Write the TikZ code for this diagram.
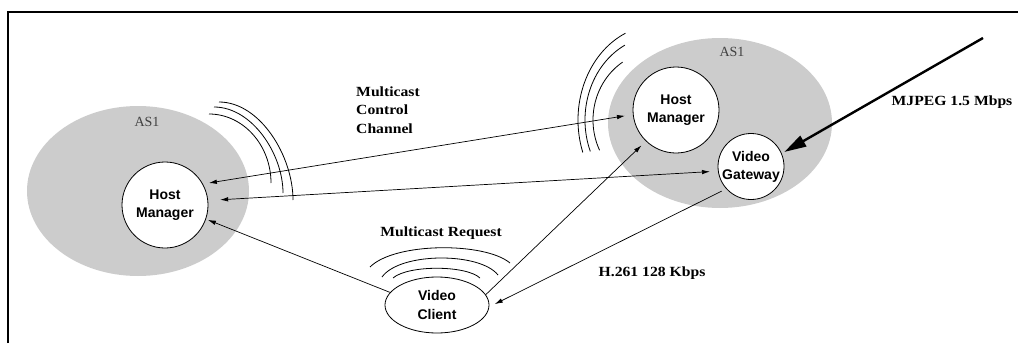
\documentclass[tikz,border=0pt]{standalone}
\usepackage{fontspec}
\setmainfont{Liberation Serif}
\setsansfont{Liberation Sans}
\newfontfamily\lblfont[FakeStretch=1.12]{Liberation Serif}
\usetikzlibrary{arrows.meta,shapes.geometric}

\begin{document}
\begin{tikzpicture}[x=1pt,y=-1pt,
  >={Latex[length=8pt,width=4.5pt]},
  zone/.style={fill=gray!40,draw=none},
  hostnode/.style={circle,draw,fill=white,line width=0.8pt,inner sep=0pt,
    minimum size=86pt,align=center,
    font=\sffamily\bfseries\fontsize{14}{18}\selectfont},
  gatenode/.style={hostnode,minimum size=66pt},
  clientnode/.style={ellipse,draw,fill=white,line width=0.8pt,inner sep=0pt,
    minimum width=104pt,minimum height=56pt,align=center,
    font=\sffamily\bfseries\fontsize{14}{19}\selectfont},
  link/.style={line width=0.7pt},
  feed/.style={line width=2.4pt,-{Triangle[length=22pt,width=12pt]}},
  wave/.style={line width=0.8pt},
  lbl/.style={inner sep=0pt,font=\lblfont\bfseries\fontsize{14}{18.5}\selectfont},
  zonelbl/.style={inner sep=0pt,text=black!75,font=\rmfamily\fontsize{14}{16}\selectfont}
]
\useasboundingbox (0,0) rectangle (1018,343);

% frame
\draw[line width=1.3pt] (8,343) -- (8,12) -- (1018,12);

% administrative zones
\fill[zone] (138,191) ellipse [x radius=111, y radius=85];
\fill[zone] (720,123) ellipse [x radius=112, y radius=85];
\node[zonelbl] (asL) at (147,122) {AS1};
\node[zonelbl] (asR) at (732,52) {AS1};

% broadcast waves
\draw[wave] (209,114) .. controls (243,114) and (271,145) .. (271,183);
\draw[wave] (214,107) .. controls (252,107) and (283,154) .. (283,193);
\draw[wave] (219,102) .. controls (260,102) and (293,156) .. (293,200);

\draw[wave] ([shift={(-114:80 and 95)}]658,120) arc[start angle=-114, end angle=-200, x radius=80, y radius=95];
\draw[wave] ([shift={(-117:73 and 84)}]658,120) arc[start angle=-117, end angle=-202, x radius=73, y radius=84];
\draw[wave] ([shift={(-123:65 and 69)}]658,120) arc[start angle=-123, end angle=-206, x radius=65, y radius=69];

\draw[wave] (370,267) .. controls (395,242) and (485,242) .. (510,263);
\draw[wave] (382,277) .. controls (400,252) and (480,252) .. (498,275);
\draw[wave] (393,278) .. controls (408,265) and (466,265) .. (480,278);

% nodes
\node[hostnode] (hmL) at (165,205) {Host\\Manager};
\node[hostnode] (hmR) at (676,110) {Host\\Manager};
\node[gatenode] (gw) at (751,166.5) {Video\\Gateway};
\node[clientnode] (vc) at (437,305) {Video\\Client};
\coordinate (src) at (983,38);

% labels
\node[lbl,anchor=west,align=left] (mcc) at (356,110) {Multicast\\Control\\Channel};
\node[lbl] (mreq) at (441,233) {Multicast Request};
\node[lbl] (h261) at (652,273) {H.261 128 Kbps};
\node[lbl] (mjpeg) at (952,102) {MJPEG 1.5 Mbps};

% connectors
\draw[link,<->,shorten <=6pt,shorten >=8pt] (hmL.29) -- (hmR.186);
\draw[link,<->,shorten <=12pt,shorten >=8pt] (hmL.6) -- (gw.188);
\draw[link,->,shorten >=2pt] (vc.165) -- (hmL.-19);
\draw[link,->,shorten >=6pt] (vc.12) -- (hmR.226);
\draw[link,->,shorten <=5pt,shorten >=6pt] (gw.222) -- (vc.-2);
\draw[feed,shorten >=3pt] (src) -- (gw.23);
\end{tikzpicture}
\end{document}
